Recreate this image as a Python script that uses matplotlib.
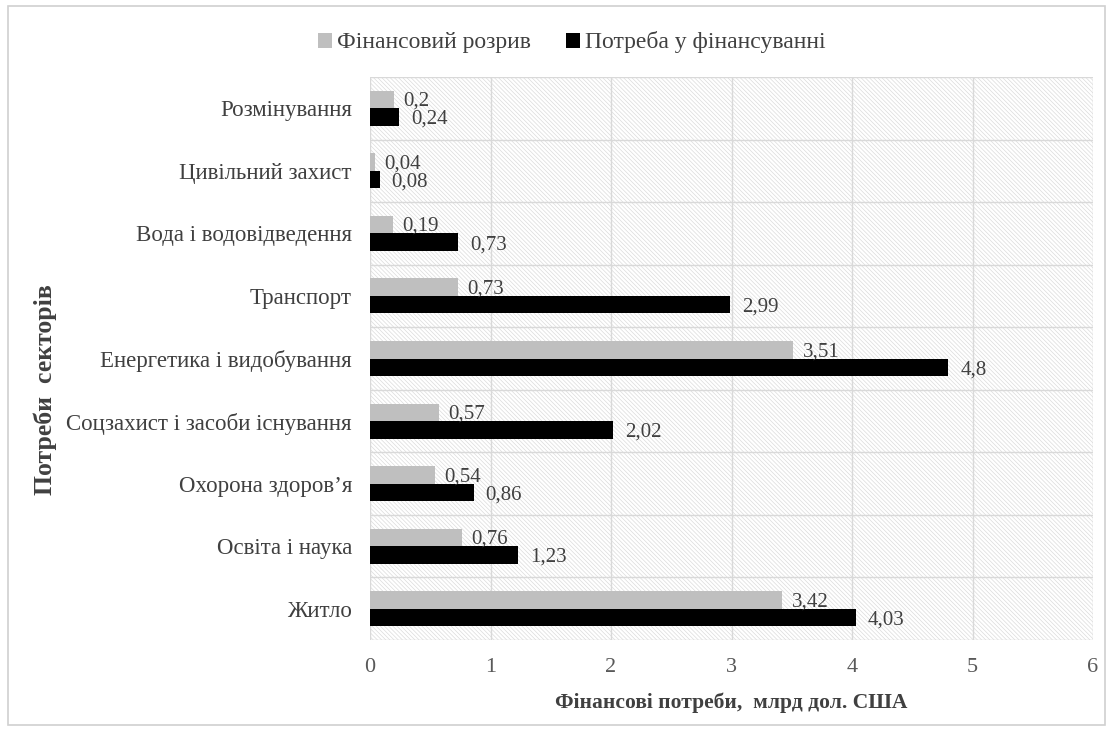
import numpy as np
import matplotlib.pyplot as plt
from matplotlib.patches import Rectangle

plt.rcParams['font.family'] = ['Liberation Serif', 'DejaVu Serif']
plt.rcParams['hatch.color'] = '#dcdcdc'
plt.rcParams['hatch.linewidth'] = 0.5

# Data (bottom to top as drawn)
sectors = ['Житло', 'Освіта і наука', "Охорона здоров’я",
           'Соцзахист і засоби існування', 'Енергетика і видобування',
           'Транспорт', 'Вода і водовідведення', 'Цивільний захист', 'Розмінування']
gap = [3.42, 0.76, 0.54, 0.57, 3.51, 0.73, 0.19, 0.04, 0.2]
need = [4.03, 1.23, 0.86, 2.02, 4.8, 2.99, 0.73, 0.08, 0.24]
gap_labels = ['3,42', '0,76', '0,54', '0,57', '3,51', '0,73', '0,19', '0,04', '0,2']
need_labels = ['4,03', '1,23', '0,86', '2,02', '4,8', '2,99', '0,73', '0,08', '0,24']

fig = plt.figure(figsize=(11.13, 7.31), dpi=100)
ax = fig.add_axes([370 / 1113, 1 - 640 / 731, 723 / 1113, 563 / 731])

# outer frame
fig.patches.append(Rectangle((8 / 1113, 6 / 731), 1097 / 1113, 719 / 731,
                             transform=fig.transFigure, fill=False,
                             edgecolor='#d0d0d0', linewidth=1.2))

y = np.arange(len(sectors))
h = 0.28

# hatched background
ax.add_patch(Rectangle((0, -0.5), 6, len(sectors), facecolor='white',
                       hatch='\\' * 8, edgecolor='#dcdcdc', linewidth=0, zorder=0))

ax.barh(y + h / 2, gap, height=h, color='#bfbfbf', label='Фінансовий розрив', zorder=3)
ax.barh(y - h / 2, need, height=h, color='black', label='Потреба у фінансуванні', zorder=3)

for yi, v, s in zip(y, gap, gap_labels):
    ax.text(v + 0.08, yi + h / 2 - 0.03, s, va='center', ha='left', fontsize=15, color='#404040')
for yi, v, s in zip(y, need, need_labels):
    ax.text(v + 0.1, yi - h / 2 - 0.04, s, va='center', ha='left', fontsize=15, color='#404040')

ax.set_xlim(0, 6)
ax.set_ylim(-0.5, len(sectors) - 0.5)
ax.set_xticks(range(7))
ax.set_yticks(y)
ax.set_yticklabels(sectors, fontsize=16.5, color='#404040')
ax.tick_params(axis='x', labelsize=16, labelcolor='#595959', length=0, pad=13)
ax.tick_params(axis='y', length=0, pad=13)

for xv in range(1, 7):
    ax.axvline(xv, color='#d9d9d9', linewidth=1, zorder=1)
for yb in np.arange(-0.5, len(sectors), 1):
    ax.axhline(yb, color='#d9d9d9', linewidth=1, zorder=1)
ax.axvline(0, color='#d9d9d9', linewidth=1, zorder=1)

for sp in ax.spines.values():
    sp.set_visible(False)

ax.set_xlabel('Фінансові потреби,  млрд дол. США', fontsize=15.5, fontweight='bold',
              color='#404040', labelpad=11)
ax.set_ylabel('Потреби  секторів', fontsize=18.5, fontweight='bold', color='#404040')
ax.yaxis.set_label_coords(-313 / 723, 0.444)

ax.legend(loc='lower center', bbox_to_anchor=(0.279, 1.0), ncol=2, frameon=False,
          fontsize=17, handlelength=0.6, handleheight=0.6, handletextpad=0.2,
          columnspacing=1.5, labelcolor='#404040', borderaxespad=0.6)

fig.savefig('out.png', dpi=100)
